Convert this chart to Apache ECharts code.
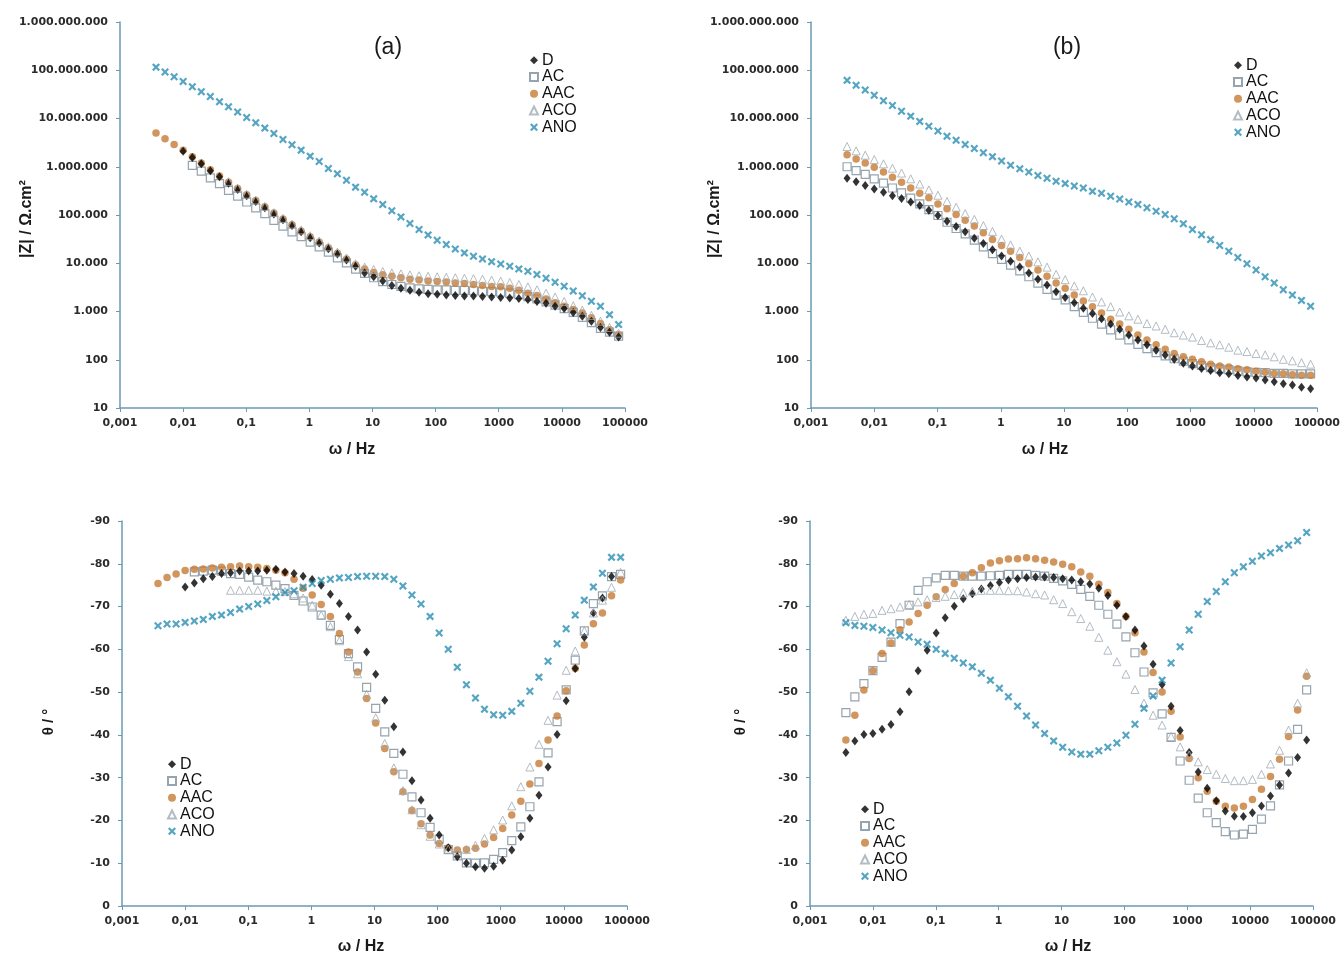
<!DOCTYPE html>
<html>
<head>
<meta charset="utf-8">
<title>Bode</title>
<script src="https://cdn.jsdelivr.net/npm/echarts@6.0.0/dist/echarts.min.js"></script>
<style>
html,body{margin:0;padding:0;background:#fff;}
#main{width:1344px;height:956px;}
</style>
</head>
<body>
<div id="main"></div>
<script>
// frequencies (Hz), same for every series
var freq = [0.00372, 0.00517, 0.0072, 0.01, 0.014, 0.0194, 0.027, 0.0377, 0.0524, 0.073,
	0.1016, 0.1414, 0.197, 0.274, 0.382, 0.531, 0.74, 1.03, 1.43, 2.0,
	2.78, 3.87, 5.39, 7.5, 10.44, 14.54, 20.24, 28.2, 39.2, 54.6,
	76, 105.9, 147.4, 205, 286, 398, 553, 771, 1073, 1494,
	2080, 2895, 4031, 5612, 7812, 10877, 15142, 21081, 29350, 40858,
	56885, 79196];

var names = ['D', 'AC', 'AAC', 'ACO', 'ANO'];
var xTickLabels = ['0,001', '0,01', '0,1', '1', '10', '100', '1000', '10000', '100000'];
var zTickLabels = ['10', '100', '1.000', '10.000', '100.000', '1.000.000', '10.000.000', '100.000.000', '1.000.000.000'];

// (a) |Z|
var zA_D = [null, null, null, 2.09e6, 1.55e6, 1.15e6, 8.3e5, 6.17e5, 4.57e5, 3.39e5, 2.51e5, 1.91e5, 1.41e5, 1.05e5, 7.94e4, 6.03e4, 4.47e4, 3.39e4, 2.63e4, 2.0e4, 1.55e4, 1.17e4, 8710,
	6310, 5250, 4270, 3470, 3020, 2750, 2510, 2340, 2290, 2190, 2140, 2090, 2090, 2040, 2000, 1950, 1910, 1860, 1780, 1620, 1480, 1290, 1150, 955, 794, 631, 468, 372, 295];
var zA_AC = [null, null, null, null, 1.07e6, 8.13e5, 5.89e5, 4.47e5, 3.24e5, 2.45e5, 1.86e5, 1.41e5, 1.07e5, 7.76e4, 5.89e4, 4.47e4, 3.55e4, 2.75e4, 2.19e4, 1.70e4, 1.29e4, 1.02e4, 7590, 6170, 5010,
	4170, 3630, 3310, 3090, 2950, 2880, 2820, 2820, 2750, 2750, 2690, 2630, 2570, 2510, 2400, 2240, 2040, 1820, 1580, 1350, 1150, 955, 759, 589, 447, 372, 309];
var zA_AAC = [5.0e6, 3.8e6, 2.88e6, 2.19e6, 1.62e6, 1.2e6, 8.7e5, 6.46e5, 4.79e5, 3.55e5, 2.63e5, 2.0e5, 1.48e5, 1.1e5, 8.3e4, 6.3e4, 4.68e4, 3.55e4, 2.75e4, 2.09e4,
	1.62e4, 1.23e4, 9330, 7590, 6460, 5750, 5370, 5010, 4680, 4470, 4270, 4170, 4070, 3890, 3800, 3630, 3470, 3310, 3240, 3020,
	2750, 2400, 2140, 1820, 1510, 1290, 1100, 933, 741, 562, 417, 331];
var zA_ACO = [null, null, null, null, null, null, null, null, 4.9e5, 3.63e5, 2.69e5, 2.04e5, 1.51e5, 1.12e5, 8.51e4, 6.46e4, 4.9e4, 3.72e4, 2.88e4, 2.19e4, 1.70e4, 1.29e4, 9770,
	8320, 7410, 6760, 6310, 6030, 5750, 5500, 5370, 5250, 5130, 5010, 4900, 4790, 4680, 4470, 4270, 3980, 3630, 3240, 2820, 2400, 2000, 1620, 1320, 1070, 832, 631, 468, 355];
var zA_ANO = [1.16e8, 9.18e7, 7.35e7, 5.87e7, 4.55e7, 3.59e7, 2.87e7, 2.22e7, 1.75e7, 1.36e7, 1.05e7, 8.15e6, 6.32e6, 4.9e6, 3.68e6, 2.85e6, 2.21e6, 1.66e6, 1.29e6, 9.2e5,
	7.13e5, 5.27e5, 3.78e5, 2.97e5, 2.16e5, 1.65e5, 1.22e5, 9.14e4, 6.65e4, 4.99e4, 3.87e4, 3.0e4, 2.44e4, 1.98e4, 1.64e4, 1.40e4, 1.23e4, 1.08e4, 9680, 8670,
	7640, 6820, 5820, 4890, 4040, 3330, 2670, 2130, 1630, 1280, 861, 535];

// (b) |Z|
var zB_D = [5.75e5, 4.9e5, 4.07e5, 3.47e5, 2.95e5, 2.51e5, 2.19e5, 1.86e5, 1.58e5, 1.26e5, 9.77e4, 7.41e4, 5.75e4, 4.47e4, 3.31e4, 2.57e4, 1.91e4, 1.41e4, 1.1e4, 8320,
	6310, 4680, 3550, 2570, 1950, 1510, 1170, 912, 708, 550, 427, 324, 257, 204, 158, 126, 102, 85, 74, 66,
	60, 54, 51, 47, 44, 42, 38, 35, 32, 30, 27, 25];
var zB_AC = [1.0e6, 8.32e5, 6.92e5, 5.62e5, 4.57e5, 3.63e5, 2.88e5, 2.24e5, 1.7e5, 1.29e5, 9.77e4, 7.08e4, 5.25e4, 4.07e4, 3.02e4, 2.19e4, 1.58e4, 1.2e4, 9120, 6920,
	5250, 3890, 2880, 2190, 1740, 1260, 955, 724, 550, 417, 324, 257, 209, 170, 141, 120, 105, 93, 83, 76,
	69, 65, 62, 59, 56, 55, 54, 52, 52, 51, 51, 51];
var zB_AAC = [1.78e6, 1.45e6, 1.2e6, 9.77e5, 7.76e5, 6.03e5, 4.79e5, 3.63e5, 2.82e5, 2.29e5, 1.7e5, 1.35e5, 1.02e5, 7.76e4, 5.89e4, 4.27e4, 3.09e4, 2.34e4, 1.78e4, 1.32e4,
	9770, 7240, 5370, 3890, 3020, 2190, 1660, 1260, 933, 692, 550, 427, 324, 257, 204, 166, 135, 115, 102, 91,
	81, 74, 71, 65, 62, 58, 55, 52, 51, 49, 48, 48];
var zB_ACO = [2.63e6, 2.14e6, 1.74e6, 1.41e6, 1.15e6, 9.33e5, 7.41e5, 5.62e5, 4.37e5, 3.31e5, 2.57e5, 1.91e5, 1.45e5, 1.07e5, 8.13e4, 6.03e4, 4.57e4, 3.16e4, 2.4e4, 1.78e4,
	1.41e4, 1.07e4, 8320, 5890, 4570, 3390, 2690, 2000, 1580, 1260, 977, 813, 692, 562, 501, 427, 363, 324, 295, 251,
	224, 204, 182, 158, 148, 135, 126, 115, 102, 95, 87, 81];
var zB_ANO = [6.17e7, 4.9e7, 3.89e7, 3.02e7, 2.34e7, 1.86e7, 1.41e7, 1.12e7, 8.71e6, 6.92e6, 5.5e6, 4.27e6, 3.55e6, 2.88e6, 2.4e6, 1.95e6, 1.62e6, 1.32e6, 1.07e6, 9.12e5,
	7.76e5, 6.61e5, 5.75e5, 5.01e5, 4.47e5, 3.98e5, 3.63e5, 3.09e5, 2.82e5, 2.45e5, 2.14e5, 1.86e5, 1.66e5, 1.41e5, 1.2e5, 1.02e5, 8.32e4, 6.61e4, 5.01e4, 3.89e4,
	3.09e4, 2.34e4, 1.78e4, 1.32e4, 9770, 7240, 5250, 3890, 2820, 2190, 1700, 1290];

// (a) phase
var pA_D = [null, null, null, -74.6, -75.5, -76.5, -77.0, -77.7, -77.9, -78.3, -78.3, -78.3, -78.5, -78.7, -78.1, -77.7, -77.1, -76.3, -75.0, -72.9, -70.7, -67.7, -64.5, -59.4, -54.2, -48.1, -41.9,
	-36.0, -29.3, -24.8, -20.5, -16.6, -13.6, -11.5, -10.0, -9.2, -8.8, -9.3, -10.7, -13.1, -16.2, -20.5, -25.9, -32.5, -40.1, -48.0, -55.5, -62.8, -68.5, -72.0, -77.0, null];
var pA_AC = [null, null, null, null, -78.1, -78.3, -78.5, -78.3, -77.7, -77.5, -76.9, -76.2, -75.8, -75.0, -74.2, -72.6, -71.3,
	-69.9, -68.0, -65.6, -62.3, -59.0, -55.9, -51.1, -46.2, -40.7, -35.7, -30.8, -25.5, -21.8, -18.4, -15.6, -13.2, -11.7, -10.1, -10.0, -10.1,
	-10.9, -12.5, -15.3, -18.5, -23.2, -29.0, -35.8, -43.1, -50.5, -57.5, -64.3, -70.7, -72.5, -77.0, -77.5];
var pA_AAC = [-75.4, -76.8, -77.6, -78.4, -78.7, -78.8, -79.0, -79.2, -79.3, -79.5, -79.3, -79.2, -78.9, -78.5, -77.9, -76.4, -74.3, -72.7,
	-70.5, -67.7, -63.7, -59.4, -54.7, -48.5, -42.8, -36.8, -31.4, -26.7, -22.3, -19.2, -16.6, -14.6,
	-13.6, -13.1, -13.2, -13.5, -14.5, -16.0, -18.1, -21.3, -24.5, -28.5, -33.3, -38.8, -44.4, -50.3, -55.5, -61.0, -66.0, -68.5, -72.5, -76.2];
var pA_ACO = [null, null, null, null, null, null, null, null, -73.8, -73.8, -73.8, -73.8, -73.6, -73.6, -73.5, -73.0, -72.0, -70.3,
	-68.0, -65.3, -62.0, -58.3, -54.3, -49.5, -44.0, -38.0, -32.3, -27.0, -22.5, -19.0, -16.3, -14.5, -13.3, -12.9, -13.2, -14.2, -15.8, -17.8,
	-20.1, -23.4, -27.9, -32.5, -37.8, -43.4, -49.3, -55.1, -59.6, -64.3, -68.5, -71.5, -74.5, -78.0];
var pA_ANO = [-65.5, -65.9, -65.9, -66.3, -66.6, -67.0, -67.7, -68.0, -68.6, -69.4, -70.0, -70.6, -71.4, -72.3, -73.3, -73.7, -74.5, -75.4, -76.1, -76.4,
	-76.7, -76.8, -77.0, -77.1, -77.1, -77.0, -76.4, -74.8, -72.7, -70.6, -67.7, -63.8, -60.0, -55.8, -51.7, -48.6, -46.0, -44.7, -44.6, -45.5,
	-47.4, -50.2, -53.5, -57.2, -61.3, -64.8, -68.0, -71.5, -74.6, -77.8, -81.5, -81.5];

// (b) phase
var pB_D = [-35.9, -38.6, -40.1, -40.3, -41.3, -42.4, -45.4, -50.1, -55.0, -59.8, -63.8, -67.4, -70.1, -71.8, -73.0, -74.1, -74.9, -75.6, -76.2, -76.5, -76.8, -76.9, -76.9, -76.8, -76.5, -76.2,
	-75.8, -75.3, -74.3, -72.6, -70.3, -67.7, -64.5, -60.8, -56.5, -51.8,
	-46.7, -41.0, -35.9, -31.3, -27.5, -24.6, -22.2, -21.0, -20.9, -21.8, -23.4, -25.7, -28.3, -31.1, -34.7, -38.8];
var pB_AC = [-45.2, -48.9, -52.0, -55.0, -58.1, -61.7, -66.0, -70.3, -73.8, -75.8, -76.7, -77.3, -77.3, -77.1, -77.1, -77.1, -77.2, -77.3, -77.5, -77.5, -77.5, -77.3, -77.1,
	-76.6, -76.0, -75.2, -74.0, -72.4, -70.3, -68.2, -65.9, -62.9, -59.2, -54.7, -49.8, -44.9,
	-39.4, -33.9, -29.4, -25.2, -21.8, -19.5, -17.4, -16.6, -16.8, -17.9, -20.3, -23.4, -28.3, -33.9, -41.3, -50.5];
var pB_AAC = [-38.8, -44.6, -50.5, -55.0, -59.0, -61.5, -64.6, -66.4, -68.4, -70.3, -72.3, -74.0, -75.4, -77.1, -77.9, -79.1, -80.2, -80.7, -81.1, -81.2, -81.4, -81.2, -80.8, -80.4, -79.9, -79.3, -78.1, -77.1, -75.2,
	-73.3, -70.7, -67.7, -63.9, -59.4, -54.6, -50.0,
	-45.5, -39.5, -34.5, -30.0, -26.8, -24.5, -23.3, -22.9, -23.3, -24.9, -27.3, -30.3, -34.3, -39.6, -45.8, -53.7];
var pB_ACO = [-66.8, -67.7, -68.2, -68.4, -69.1, -69.5, -69.9, -70.5, -71.1, -71.6, -72.1, -72.4, -72.8, -73.2, -73.6, -73.8, -73.8, -73.8, -73.7, -73.7,
	-73.4, -73.0, -72.7, -71.6, -70.7, -68.8, -67.2, -65.4, -62.8, -59.8, -57.1, -54.2, -50.6, -47.4, -44.6, -42.3,
	-39.6, -37.2, -35.3, -33.7, -31.9, -30.8, -29.8, -29.3, -29.3, -29.6, -30.8, -33.2, -36.4, -41.1, -47.4, -54.5];
var pB_ANO = [-66.2, -65.6, -65.4, -65.1, -64.5, -63.9, -63.3, -62.9, -61.7, -61.2, -60.0, -59.0, -57.9, -56.8, -55.9, -54.4, -52.8, -50.9, -48.9, -46.7,
	-44.4, -42.3, -40.3, -38.6, -37.1, -36.0, -35.5, -35.5, -36.3, -37.1, -38.1, -39.9, -42.5, -46.2, -49.1, -52.8, -56.8, -60.6, -64.5, -68.2,
	-71.2, -73.5, -75.8, -77.9, -79.3, -80.6, -81.8, -82.6, -83.6, -84.4, -85.4, -87.3];

var axisColor = '#6a9ab4';
var tickFont = 'DejaVu Sans';
var textFont = '"Liberation Sans", Arial, sans-serif';
// bold x marker
var xMark = 'path://M0,1.9 L1.9,0 L5,3.1 L8.1,0 L10,1.9 L6.9,5 L10,8.1 L8.1,10 L5,6.9 L1.9,10 L0,8.1 L3.1,5 Z';

var styles = {
	D: {symbol: 'diamond', size: [7, 9], item: {color: '#000'}},
	AC: {symbol: 'rect', size: 8, item: {color: 'rgba(255,255,255,0)', borderColor: '#7a8d9a', borderWidth: 1.2}},
	AAC: {symbol: 'circle', size: 7.5, item: {color: '#c57a36'}},
	ACO: {symbol: 'triangle', size: 8, item: {color: 'rgba(255,255,255,0)', borderColor: '#a0abb4', borderWidth: 1}},
	ANO: {symbol: xMark, size: 8, item: {color: '#2a8fb3'}}
};

function pts(vals){
	var out = [];
	for(var i=0;i<freq.length;i++){
		if(vals[i]!=null) out.push([freq[i], vals[i]]);
	}
	return out;
}

function fmtX(v){
	return xTickLabels[Math.round(Math.log(v)/Math.LN10)+3];
}
function fmtZ(v){
	return zTickLabels[Math.round(Math.log(v)/Math.LN10)-1];
}

function baseAxis(gi, margin){
	return {
		gridIndex: gi,
		axisLine: {show: true, onZero: false, lineStyle: {color: axisColor, width: 1.5}},
		axisTick: {show: true, length: 4, lineStyle: {color: axisColor}},
		axisLabel: {margin: margin, fontFamily: tickFont, fontSize: 11, fontWeight: 'bold', color: '#2b2b2b'},
		splitLine: {show: false}
	};
}

function xAxisCfg(gi){
	var a = baseAxis(gi, 10);
	a.type = 'log'; a.logBase = 10; a.min = 0.001; a.max = 100000; a.splitNumber = 8;
	a.axisLabel.formatter = fmtX;
	return a;
}
function zAxisCfg(gi){
	var a = baseAxis(gi, 12);
	a.type = 'log'; a.logBase = 10; a.min = 10; a.max = 1e9; a.splitNumber = 8;
	a.axisLabel.formatter = fmtZ;
	return a;
}
function pAxisCfg(gi){
	var a = baseAxis(gi, 12);
	a.type = 'value'; a.min = -90; a.max = 0; a.interval = 10; a.inverse = true;
	return a;
}

function legendCfg(left, top){
	return {
		data: names, orient: 'vertical', left: left, top: top, padding: 0,
		itemGap: 0, itemWidth: 8, itemHeight: 8, selectedMode: false,
		textStyle: {fontFamily: textFont, fontSize: 16, color: '#111', lineHeight: 16.7, padding: [0, 0, 0, -1]}
	};
}

function addSeries(list, gi, data){
	// drawing order: AC, AAC, D, ACO, ANO
	var order = ['AC', 'AAC', 'D', 'ACO', 'ANO'];
	for(var k=0;k<order.length;k++){
		var n = order[k];
		var st = styles[n];
		list.push({
			type: 'scatter', name: n, xAxisIndex: gi, yAxisIndex: gi,
			data: pts(data[n]), symbol: st.symbol, symbolSize: st.size,
			itemStyle: st.item, emphasis: {disabled: true}, silent: true
		});
	}
}

function txt(x, y, s, font, rot){
	return {
		type: 'text', x: x, y: y, rotation: rot || 0,
		style: {text: s, font: font, fill: '#1a1a1a', align: 'center', verticalAlign: 'middle'}
	};
}

var series = [];
addSeries(series, 0, {D: zA_D, AC: zA_AC, AAC: zA_AAC, ACO: zA_ACO, ANO: zA_ANO});
addSeries(series, 1, {D: zB_D, AC: zB_AC, AAC: zB_AAC, ACO: zB_ACO, ANO: zB_ANO});
addSeries(series, 2, {D: pA_D, AC: pA_AC, AAC: pA_AAC, ACO: pA_ACO, ANO: pA_ANO});
addSeries(series, 3, {D: pB_D, AC: pB_AC, AAC: pB_AAC, ACO: pB_ACO, ANO: pB_ANO});

var boldX = 'bold 16px "Liberation Sans", Arial';
var boldZ = 'bold 16px "Liberation Sans", Arial';
var boldT = 'bold 15px "Liberation Sans", Arial';

var option = {
	backgroundColor: '#fff',
	animation: false,
	grid: [
		{left: 120, top: 22, width: 505, height: 386},
		{left: 811, top: 22, width: 506, height: 386},
		{left: 122, top: 521, width: 505, height: 385},
		{left: 810, top: 521, width: 503, height: 385}
	],
	xAxis: [xAxisCfg(0), xAxisCfg(1), xAxisCfg(2), xAxisCfg(3)],
	yAxis: [zAxisCfg(0), zAxisCfg(1), pAxisCfg(2), pAxisCfg(3)],
	legend: [legendCfg(529, 52), legendCfg(1233, 57), legendCfg(167, 756), legendCfg(860, 801)],
	graphic: [
		txt(388, 48, '(a)', '23px "Liberation Sans", Arial'),
		txt(1067, 48, '(b)', '23px "Liberation Sans", Arial'),
		txt(27, 219, '|Z| / Ω.cm²', boldZ, Math.PI/2),
		txt(715, 219, '|Z| / Ω.cm²', boldZ, Math.PI/2),
		txt(49, 722, 'θ / °', boldT, Math.PI/2),
		txt(741, 722, 'θ / °', boldT, Math.PI/2),
		txt(352, 450, 'ω / Hz', boldX),
		txt(1045, 450, 'ω / Hz', boldX),
		txt(361, 947, 'ω / Hz', boldX),
		txt(1068, 947, 'ω / Hz', boldX)
	],
	series: series
};

var myChart = echarts.init(document.getElementById('main'));
myChart.setOption(option);
</script>
</body>
</html>
